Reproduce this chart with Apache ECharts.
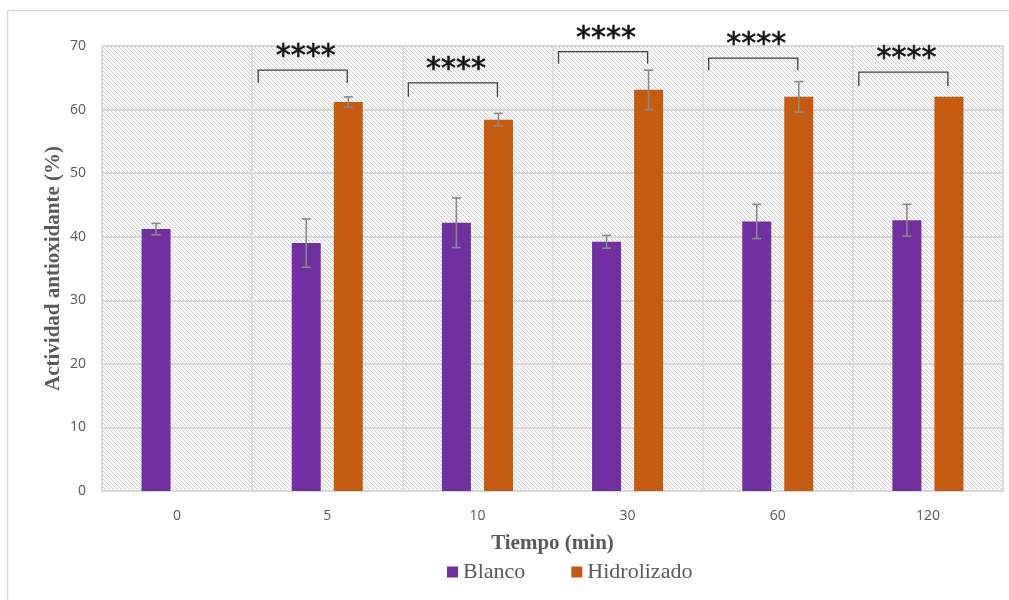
<!DOCTYPE html>
<html>
<head>
<meta charset="utf-8">
<script src="https://cdn.jsdelivr.net/npm/echarts@6/dist/echarts.min.js"></script>
<style>html,body{margin:0;padding:0;background:#fff;}#c{width:1009px;height:600px;}</style>
</head>
<body>
<div id="c"></div>
<script>
const categories = ['0', '5', '10', '30', '60', '120'];
const blanco = [41.2, 39.0, 42.2, 39.2, 42.4, 42.6];
const blancoErr = [0.9, 3.8, 3.9, 1.0, 2.7, 2.5];
const hidrolizado = [null, 61.2, 58.4, 63.1, 62.0, 62.0];
const hidrolizadoErr = [null, 0.8, 1.0, 3.1, 2.4, null];
// significance brackets: [category index, bracket top value, bracket leg end value]
const brackets = [[1, 66.2, 64.2], [2, 64.2, 62.0], [3, 69.1, 67.2], [4, 68.1, 66.2], [5, 65.9, 63.7]];
const sigLabel = '****';
const yTicks = { min: 0, max: 70, interval: 10 };

const BAR_W = 29, GAP = 0.45;
const OFFSET = BAR_W * (1 + GAP) / 2;

function hatch() {
  const c = document.createElement('canvas');
  c.width = 4; c.height = 4;
  const g = c.getContext('2d');
  g.fillStyle = '#f7f7f7';
  g.fillRect(0, 0, 4, 4);
  g.strokeStyle = '#d4d4d4';
  g.lineWidth = 1;
  g.beginPath();
  g.moveTo(-1, -1); g.lineTo(5, 5);
  g.moveTo(-1, 3); g.lineTo(1, 5);
  g.moveTo(3, -1); g.lineTo(5, 1);
  g.stroke();
  return c;
}

function errData(vals, errs) {
  const out = [];
  vals.forEach((v, i) => { if (v != null && errs[i] != null) out.push([i, v, errs[i]]); });
  return out;
}

function errRender(off) {
  return function (params, api) {
    const i = api.value(0), v = api.value(1), e = api.value(2);
    const top = api.coord([i, v + e]);
    const bot = api.coord([i, v - e]);
    const x = top[0] + off;
    const st = { stroke: '#8a8a8a', lineWidth: 1.6 };
    return {
      type: 'group',
      children: [
        { type: 'line', shape: { x1: x, y1: top[1], x2: x, y2: bot[1] }, style: st },
        { type: 'line', shape: { x1: x - 4.5, y1: top[1], x2: x + 4.5, y2: top[1] }, style: st },
        { type: 'line', shape: { x1: x - 4.5, y1: bot[1], x2: x + 4.5, y2: bot[1] }, style: st }
      ]
    };
  };
}

const serifText = { fontFamily: '"Liberation Serif", "DejaVu Serif", serif', fontSize: 22, color: '#595959' };

const chart = echarts.init(document.getElementById('c'));
chart.setOption({
  animation: false,
  backgroundColor: '#fff',
  graphic: [
    { type: 'line', shape: { x1: 7.5, y1: 10.5, x2: 1009, y2: 10.5 }, style: { stroke: '#d9d9d9', lineWidth: 1.5 } },
    { type: 'line', shape: { x1: 7.5, y1: 10.5, x2: 7.5, y2: 600 }, style: { stroke: '#d9d9d9', lineWidth: 1.5 } }
  ],
  grid: {
    left: 102, right: 6, top: 46, bottom: 109,
    show: true,
    backgroundColor: { image: hatch(), repeat: 'repeat' },
    borderColor: '#d9d9d9', borderWidth: 1.5
  },
  legend: {
    bottom: 12, left: 442,
    itemWidth: 11, itemHeight: 11, itemGap: 46,
    icon: 'rect',
    textStyle: serifText,
    data: [
      { name: 'Blanco', textStyle: serifText },
      { name: 'Hidrolizado', textStyle: serifText }
    ]
  },
  xAxis: {
    type: 'category',
    data: categories,
    name: 'Tiempo (min)',
    nameLocation: 'middle',
    nameGap: 42,
    nameTextStyle: { fontFamily: '"Liberation Serif", serif', fontWeight: 'bold', fontSize: 21, color: '#595959' },
    axisLine: { lineStyle: { color: '#d9d9d9', width: 1.5 } },
    axisTick: { show: false },
    axisLabel: { color: '#595959', fontSize: 14, fontFamily: 'Open Sans', margin: 18 },
    splitLine: { show: true, lineStyle: { color: '#d9d9d9', width: 1.5 } }
  },
  yAxis: {
    type: 'value',
    min: yTicks.min, max: yTicks.max, interval: yTicks.interval,
    name: 'Actividad antioxidante (%)',
    nameLocation: 'middle',
    nameGap: 38,
    nameMoveOverlap: false,
    nameTextStyle: { fontFamily: '"Liberation Serif", serif', fontWeight: 'bold', fontSize: 21, color: '#595959' },
    axisLine: { show: false },
    axisTick: { show: false },
    axisLabel: { color: '#595959', fontSize: 14, fontFamily: 'Open Sans', margin: 16 },
    splitLine: { lineStyle: { color: '#d9d9d9', width: 2 } }
  },
  series: [
    {
      name: 'Blanco', type: 'bar', data: blanco,
      barWidth: BAR_W, barGap: (GAP * 100) + '%',
      itemStyle: { color: '#7030a0' }
    },
    {
      name: 'Hidrolizado', type: 'bar', data: hidrolizado,
      barWidth: BAR_W, barGap: (GAP * 100) + '%',
      itemStyle: { color: '#c55a11' }
    },
    {
      type: 'custom', data: errData(blanco, blancoErr),
      renderItem: errRender(-OFFSET), z: 5, silent: true
    },
    {
      type: 'custom', data: errData(hidrolizado, hidrolizadoErr),
      renderItem: errRender(OFFSET), z: 5, silent: true
    },
    {
      type: 'custom', data: brackets, z: 6, silent: true, clip: false,
      renderItem: function (params, api) {
        const i = api.value(0), yt = api.value(1), yb = api.value(2);
        const band = api.size([1, 0])[0];
        const c = api.coord([i, yt]);
        const cb = api.coord([i, yb]);
        const x1 = c[0] - 0.46 * band;
        const x2 = c[0] + OFFSET - 1;
        const st = { stroke: '#404040', lineWidth: 1.3, fill: null };
        return {
          type: 'group',
          children: [
            { type: 'polyline', shape: { points: [[x1, cb[1]], [x1, c[1]], [x2, c[1]], [x2, cb[1]]] }, style: st },
            { type: 'text', style: { text: sigLabel, x: (x1 + x2) / 2 + 3, y: c[1] + 2, align: 'center', verticalAlign: 'bottom', fontSize: 30, fontFamily: 'DejaVu Sans', fill: '#111', stroke: '#111', lineWidth: 0.6 } }
          ]
        };
      }
    }
  ]
});
</script>
</body>
</html>
